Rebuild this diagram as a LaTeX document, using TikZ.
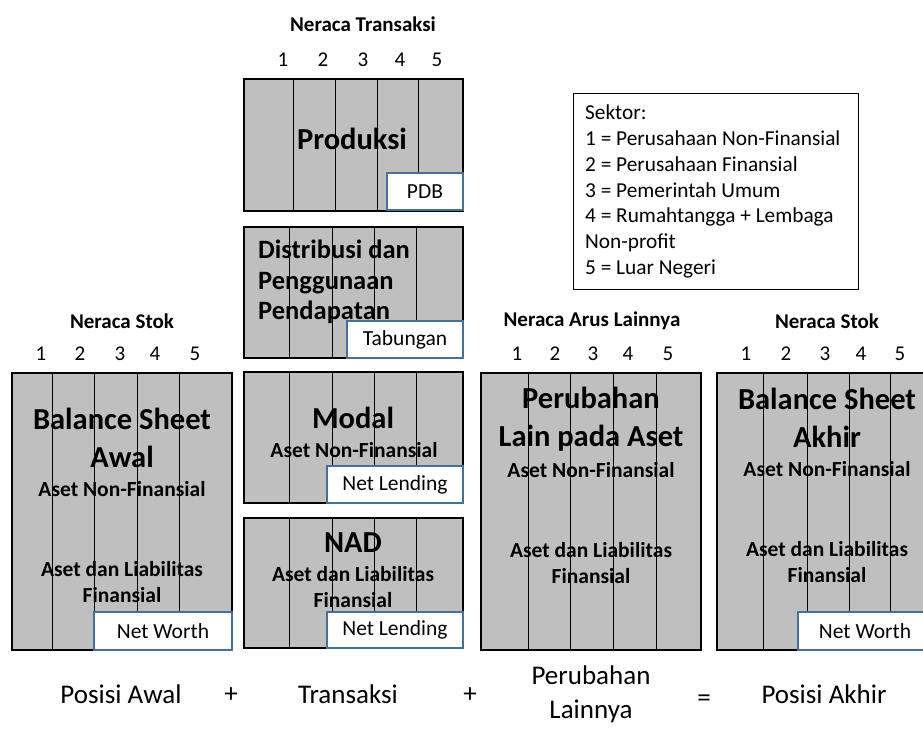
\documentclass[tikz,border=0pt]{standalone}
\usepackage{fontspec}
\setmainfont{Carlito}
\definecolor{panelgray}{RGB}{191,191,191}
\definecolor{tagblue}{RGB}{65,113,156}
\tikzset{
  panel/.style={draw=black, line width=1.5pt, fill=panelgray, anchor=north west, inner sep=0pt, outer sep=0pt},
  divider/.style={draw=black, line width=0.8pt},
  tag/.style={draw=tagblue, line width=1.5pt, fill=white, anchor=north west, inner sep=0pt, outer sep=0pt, font=\fontsize{21.5}{25}\selectfont},
  heading/.style={font=\bfseries\fontsize{21}{25}\selectfont, inner sep=0pt},
  colnum/.style={font=\fontsize{21}{25}\selectfont, inner sep=0pt},
  bigtitle/.style={font=\bfseries\fontsize{30.5}{38}\selectfont, align=center, inner sep=0pt},
  subtitle/.style={font=\bfseries\fontsize{21.5}{26}\selectfont, align=center, inner sep=0pt},
  eqtext/.style={font=\fontsize{27}{34}\selectfont, align=center, inner sep=0pt},
  legendbox/.style={draw=black, line width=1pt, anchor=north west, inner sep=0pt, outer sep=0pt},
  legendtext/.style={anchor=west, align=left, inner sep=0pt, font=\fontsize{21.3}{25.8}\selectfont}
}
\begin{document}
\begin{tikzpicture}[x=1pt, y=-1pt]
\useasboundingbox (0,0) rectangle (923,749);
\fill[white] (0,0) rectangle (923,749);

% panels
\node[panel, minimum width=219pt, minimum height=132pt] (prod) at (244,79) {};
\node[panel, minimum width=219pt, minimum height=131pt] (dist) at (244,227) {};
\node[panel, minimum width=219pt, minimum height=131pt] (modal) at (244,372) {};
\node[panel, minimum width=219pt, minimum height=130pt] (nad) at (244,518) {};
\node[panel, minimum width=220pt, minimum height=277pt] (awal) at (12,373) {};
\node[panel, minimum width=220pt, minimum height=277pt] (arus) at (481,373) {};
\node[panel, minimum width=208pt, minimum height=277pt] (akhir) at (717,373) {};

% column dividers
\foreach \o in {49,91,133,174}
  \draw[divider] ([xshift=\o pt]prod.north west) -- ([xshift=\o pt]prod.south west);
\foreach \p in {dist,modal,nad}
  \foreach \o in {45,88,130,172}
    \draw[divider] ([xshift=\o pt]\p.north west) -- ([xshift=\o pt]\p.south west);
\foreach \o in {40,82,125,167}
  \draw[divider] ([xshift=\o pt]awal.north west) -- ([xshift=\o pt]awal.south west);
\foreach \o in {47,89,132,175}
  \draw[divider] ([xshift=\o pt]arus.north west) -- ([xshift=\o pt]arus.south west);
\foreach \o in {46,90,132,173}
  \draw[divider] ([xshift=\o pt]akhir.north west) -- ([xshift=\o pt]akhir.south west);

% tags
\node[tag, minimum width=76pt, minimum height=37pt] (pdb) at (387,173) {PDB};
\node[tag, minimum width=116pt, minimum height=37pt] (tab) at (347,321) {Tabungan};
\node[tag, minimum width=136pt, minimum height=37pt] (nl1) at (327,466) {Net Lending};
\node[tag, minimum width=136pt, minimum height=36pt] (nl2) at (327,612) {Net Lending};
\node[tag, minimum width=138pt, minimum height=38pt] (nw1) at (94,612) {Net Worth};
\node[tag, minimum width=127pt, minimum height=38pt] (nw2) at (798,612) {\hspace*{7pt}Net Worth};

% headings and sector numbers
\node[heading] (h1) at (363,24) {Neraca Transaksi};
\foreach \x [count=\i] in {283,323,363,400,437}
  \node[colnum] (n1\i) at (\x,60) {\i};
\node[heading] (h2) at (122,321) {Neraca Stok};
\foreach \x [count=\i] in {41,80,120,155,195}
  \node[colnum] (n2\i) at (\x,354) {\i};
\node[heading] (h3) at (592,321) {Neraca Arus Lainnya};
\foreach \x [count=\i] in {517,555,593,628,668}
  \node[colnum] (n3\i) at (\x,354) {\i};
\node[heading] (h4) at (827,321) {Neraca Stok};
\foreach \x [count=\i] in {746,786,825,861,900}
  \node[colnum] (n4\i) at (\x,354) {\i};

% panel texts
\node[bigtitle] (tprod) at (352,139) {Produksi};
\node[anchor=west, align=left, inner sep=0pt, font=\bfseries\fontsize{26.5}{30.5}\selectfont] (tdist) at (258,282) {Distribusi dan\\Penggunaan\\Pendapatan};
\node[bigtitle] (tmodal) at (353,418) {Modal};
\node[subtitle] (tmodal2) at (354,450) {Aset Non-Finansial};
\node[bigtitle] (tnad) at (353,543) {NAD};
\node[subtitle] (tnad2) at (353,587) {Aset dan Liabilitas\\Finansial};

\node[bigtitle] (tawal) at (122,438) {Balance Sheet\\Awal};
\node[subtitle] (tawal2) at (122,489) {Aset Non-Finansial};
\node[subtitle] (tawal3) at (122,582) {Aset dan Liabilitas\\Finansial};

\node[bigtitle] (tarus) at (591,419) {Perubahan\\Lain pada Aset};
\node[subtitle] (tarus2) at (591,470) {Aset Non-Finansial};
\node[subtitle] (tarus3) at (591,563) {Aset dan Liabilitas\\Finansial};

\node[bigtitle] (takhir) at (827,418) {Balance Sheet\\Akhir};
\node[subtitle] (takhir2) at (827,469) {Aset Non-Finansial};
\node[subtitle] (takhir3) at (827,562) {Aset dan Liabilitas\\Finansial};

% legend
\node[legendbox, minimum width=285pt, minimum height=195pt] (legend) at (573,94) {};
\node[legendtext] (legendtxt) at ([xshift=12pt]legend.west)
  {Sektor:\\1 = Perusahaan Non-Finansial\\2 = Perusahaan Finansial\\3 = Pemerintah Umum\\4 = Rumahtangga + Lembaga\\Non-profit\\5 = Luar Negeri};

% equation
\node[eqtext, anchor=base] (e1) at (121,703) {Posisi Awal};
\node[eqtext, anchor=base] (e2) at (231,702) {+};
\node[eqtext, anchor=base] (e3) at (348,703) {Transaksi};
\node[eqtext, anchor=base] (e4) at (470,702) {+};
\node[eqtext] (e5) at (591,694) {Perubahan\\Lainnya};
\node[eqtext, anchor=base] (e6) at (704,706) {=};
\node[eqtext, anchor=base] (e7) at (824,703) {Posisi Akhir};
\end{tikzpicture}
\end{document}
